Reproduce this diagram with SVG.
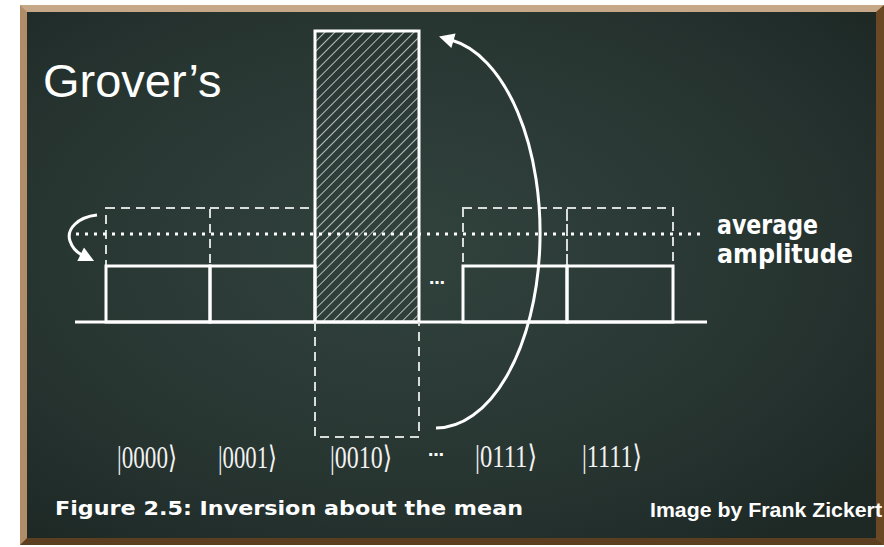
<svg xmlns="http://www.w3.org/2000/svg" width="884" height="547" viewBox="0 0 884 547">
<style>
.solid{fill:none;stroke:#ffffff;stroke-width:3}
.dash{fill:none;stroke:#d8dcda;stroke-width:2;stroke-dasharray:9 6}
.dot{fill:none;stroke:#ffffff;stroke-width:3;stroke-dasharray:3 6}
.ket{font-family:"Liberation Serif","DejaVu Serif",serif;font-size:31px;fill:#f2f2f2}
.hand{font-family:"DejaVu Sans","Liberation Sans",sans-serif;fill:#ffffff}
</style>
<defs>
<radialGradient id="board" cx="0.45" cy="0.45" r="0.7">
<stop offset="0" stop-color="#31423d"/>
<stop offset="0.6" stop-color="#283632"/>
<stop offset="1" stop-color="#1e2926"/>
</radialGradient>
<pattern id="hatch" patternUnits="userSpaceOnUse" width="7" height="7" patternTransform="rotate(45)">
<line x1="0" y1="0" x2="0" y2="7" stroke="#e6e8e6" stroke-width="1.5"/>
</pattern>
<marker id="head" viewBox="0 0 10 10" refX="1" refY="5" markerWidth="17" markerHeight="15" markerUnits="userSpaceOnUse" orient="auto">
<path d="M0,0 L10,5 L0,10 z" fill="#ffffff"/>
</marker>
</defs>
<rect x="0" y="0" width="884" height="547" fill="#ffffff"/>
<g id="frame">
<rect x="20" y="5" width="864" height="540" fill="#b08d67"/>
<polygon points="20,5 884,5 876,12 27,12" fill="#c6a787"/>
<polygon points="884,5 884,545 876,538 876,12" fill="#6b4824"/>
<polygon points="20,545 884,545 876,538 27,538" fill="#5c3e21"/>
<rect x="27" y="12" width="849" height="526" fill="url(#board)"/>
</g>
<text id="title" x="43" y="97" font-family="Liberation Sans, Arial, sans-serif" font-size="47" fill="#ffffff">Grover’s</text>
<g id="axis"><line class="solid" x1="75" y1="322" x2="707" y2="322"/></g>
<g id="bar0000">
<rect class="dash" x="106" y="208" width="104" height="114"/>
<rect class="solid" x="106" y="266" width="104" height="56"/>
</g>
<g id="bar0001">
<path class="dash" d="M210,208 H315"/>
<rect class="solid" x="210" y="266" width="105" height="56"/>
</g>
<g id="bar0010">
<rect x="315" y="31" width="104" height="291" fill="url(#hatch)" stroke="#ffffff" stroke-width="3"/>
<path class="dash" d="M315,322 V437 H419 V322"/>
</g>
<g id="bar0111">
<rect class="dash" x="463" y="208" width="104" height="58"/>
<rect class="solid" x="463" y="266" width="104" height="56"/>
</g>
<g id="bar1111">
<rect class="dash" x="567" y="208" width="106" height="58"/>
<rect class="solid" x="567" y="266" width="106" height="56"/>
</g>
<g id="mean">
<line class="dot" x1="76" y1="234" x2="704" y2="234"/>
<text class="hand" x="717" y="234" font-size="26" font-weight="bold" textLength="101" lengthAdjust="spacingAndGlyphs">average</text>
<text class="hand" x="717" y="263" font-size="26" font-weight="bold" textLength="136" lengthAdjust="spacingAndGlyphs">amplitude</text>
</g>
<g id="connectors">
<path class="solid" d="M436,428 A104,195 0 0 0 452,40.3" marker-end="url(#head)"/>
<path class="solid" d="M97,215 C78,217 66,229 70,241 C73,250 78,253 82,255" marker-end="url(#head)"/>
</g>
<g id="labels">
<text class="hand" x="429" y="284" font-size="16" font-weight="bold">…</text>
<text class="ket" x="117" y="468" textLength="60" lengthAdjust="spacingAndGlyphs">|0000⟩</text>
<text class="ket" x="218" y="468" textLength="59" lengthAdjust="spacingAndGlyphs">|0001⟩</text>
<text class="ket" x="330" y="468" textLength="62" lengthAdjust="spacingAndGlyphs">|0010⟩</text>
<text class="hand" x="428" y="456" font-size="16" font-weight="bold">…</text>
<text class="ket" x="475" y="467" textLength="62" lengthAdjust="spacingAndGlyphs">|0111⟩</text>
<text class="ket" x="582" y="467" textLength="60" lengthAdjust="spacingAndGlyphs">|1111⟩</text>
</g>
<text id="caption" class="hand" x="55" y="515" font-size="20" font-weight="bold" textLength="468" lengthAdjust="spacingAndGlyphs">Figure 2.5:  Inversion about the mean</text>
<text id="credit" x="650" y="517" font-family="Liberation Sans, Arial, sans-serif" font-size="21" font-weight="bold" fill="#ffffff" textLength="232" lengthAdjust="spacingAndGlyphs">Image by Frank Zickert</text>
</svg>
